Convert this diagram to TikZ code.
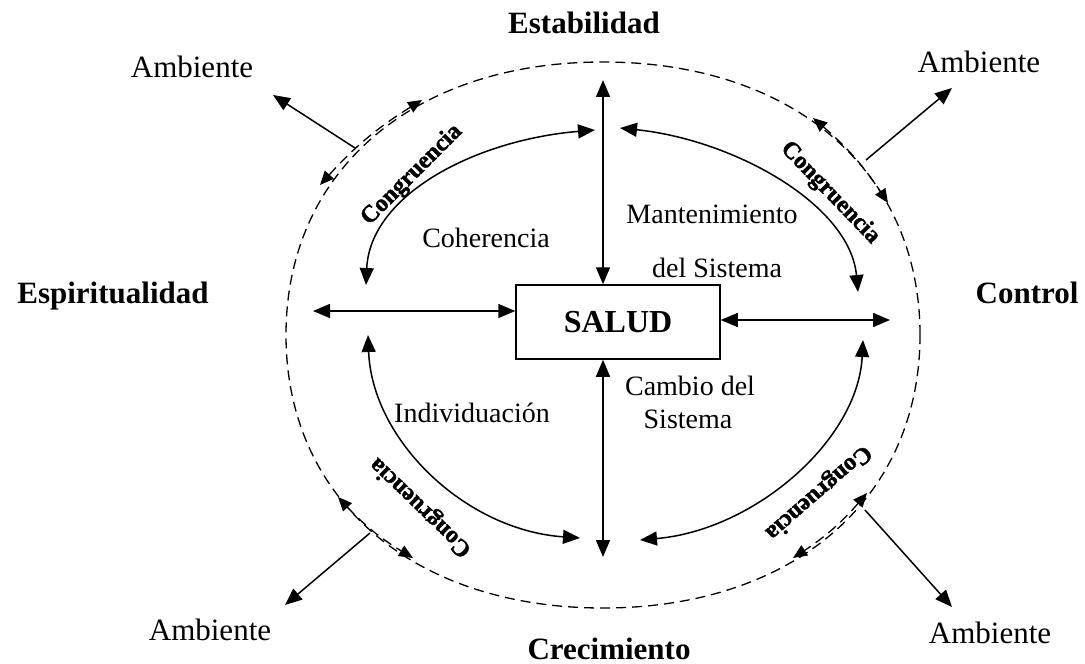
\documentclass[tikz,border=0pt]{standalone}
\usepackage{fontspec}
\setmainfont{Liberation Serif}
\newfontfamily\cgfont{Liberation Serif}[BoldFeatures={FakeBold=1.6}]
\usetikzlibrary{arrows.meta}
\tikzset{box/.style={draw,line width=0.75pt,minimum width=102pt,minimum height=37pt,inner sep=0pt,font=\fontsize{16}{19}\selectfont\bfseries},
         ar/.style={{Triangle[length=8.5pt,width=7pt]}-{Triangle[length=8.5pt,width=7pt]},line width=0.75pt},
         arw/.style={-{Triangle[length=8.5pt,width=7pt]},line width=0.75pt},
         dar/.style={{Triangle[length=7pt,width=6pt]}-{Triangle[length=7pt,width=6pt]},dash pattern=on 5pt off 3pt,line width=0.65pt},
         dsh/.style={dash pattern=on 5pt off 3pt,line width=0.65pt},
         big/.style={font=\fontsize{15.5}{18}\selectfont\bfseries,anchor=base},
         amb/.style={font=\fontsize{15.5}{18}\selectfont,anchor=base},
         lbl/.style={font=\fontsize{14}{17}\selectfont,anchor=base},
         cong/.style={font=\cgfont\fontsize{12}{13}\selectfont\bfseries,inner sep=0pt}}
\begin{document}
\begin{tikzpicture}[x=0.5pt,y=-0.5pt]
\useasboundingbox (0,0) rectangle (1085,663);
% dashed boundary
\draw[dsh] (920,335) .. controls (920,171) and (793,62) .. (603,62)
  .. controls (413,62) and (286,171) .. (286,335)
  .. controls (286,499) and (413,608) .. (603,608)
  .. controls (793,608) and (920,499) .. (920,335) -- cycle;

\node[box] (salud) at (618,322) {SALUD};

\node[big] (est) at (584,34) {Estabilidad};
\node[big] (esp) at (113,303) {Espiritualidad};
\node[big] (ctl) at (1027,303) {Control};
\node[big] (cre) at (609,659) {Crecimiento};
\node[amb] (amb1) at (192,78) {Ambiente};
\node[amb] (amb2) at (979,73) {Ambiente};
\node[amb] (amb3) at (210,640) {Ambiente};
\node[amb] (amb4) at (990,643) {Ambiente};

\node[lbl] (coh) at (486,248) {Coherencia};
\node[lbl] (man) at (712,223) {Mantenimiento};
\node[lbl] (dsis) at (717,277) {del Sistema};
\node[lbl] (ind) at (472,422) {Individuación};
\node[lbl] (cam) at (690,395) {Cambio del};
\node[lbl] (sis) at (688,428) {Sistema};

\node[cong,rotate=45] (cg1) at (412,175) {Congruencia};
\node[cong,rotate=-46] (cg2) at (830,193) {Congruencia};
\node[cong,rotate=136] (cg3) at (421,507) {Congruencia};
\node[cong,rotate=221] (cg4) at (818,492) {Congruencia};

% axes through SALUD
\coordinate (vt) at (603,80);
\coordinate (vb) at (603,557);
\coordinate (hl) at (313,311);
\coordinate (hr) at (890,320);
\draw[ar] (vt) -- (salud.north -| vt);
\draw[ar] (salud.south -| vb) -- (vb);
\draw[ar] (hl) -- (salud.west |- hl);
\draw[ar] (salud.east |- hr) -- (hr);

% inner arcs
\coordinate (a1) at (366,285); \coordinate (a2) at (595,130);
\coordinate (a3) at (620,128); \coordinate (a4) at (858,292);
\coordinate (a5) at (368,335); \coordinate (a6) at (580,538);
\coordinate (a7) at (863,340); \coordinate (a8) at (640,540);
\draw[ar] (a1) .. controls (370,195) and (475,140) .. (a2);
\draw[ar] (a3) .. controls (735,140) and (850,205) .. (a4);
\draw[ar] (a5) .. controls (372,440) and (465,530) .. (a6);
\draw[ar] (a7) .. controls (858,440) and (755,530) .. (a8);

% congruencia arrows
\coordinate (d1) at (320,185); \coordinate (d2) at (422,100);
\coordinate (d3) at (813,118); \coordinate (d4) at (888,203);
\coordinate (d5) at (338,497); \coordinate (d6) at (413,558);
\coordinate (d7) at (867,493); \coordinate (d8) at (793,558);
\draw[dar] (d1) to[bend left=8] (d2);
\draw[dar] (d3) to[bend left=8] (d4);
\draw[dar] (d5) to[bend right=8] (d6);
\draw[dar] (d7) to[bend left=8] (d8);

% ambiente arrows
\coordinate (e1) at (355,148); \coordinate (f1) at (273,95);
\coordinate (e2) at (866,160); \coordinate (f2) at (952,88);
\coordinate (e3) at (370,533); \coordinate (f3) at (285,605);
\coordinate (e4) at (865,510); \coordinate (f4) at (952,607);
\draw[arw] (e1) -- (f1);
\draw[arw] (e2) -- (f2);
\draw[arw] (e3) -- (f3);
\draw[arw] (e4) -- (f4);
\end{tikzpicture}
\end{document}
